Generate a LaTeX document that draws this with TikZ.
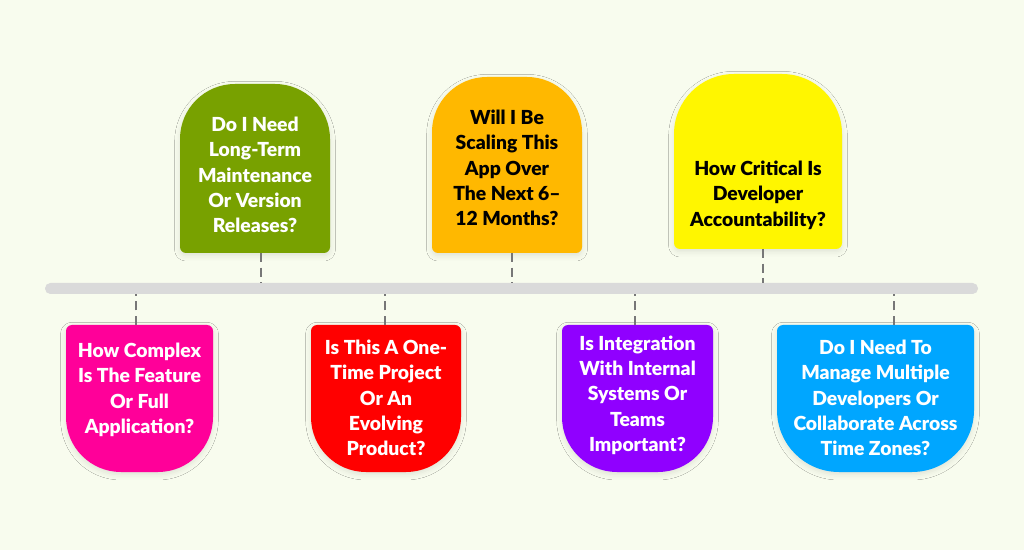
\documentclass[tikz,border=0pt]{standalone}
\usepackage{fontspec}
\setmainfont{Lato}[BoldFont={Lato Black}]
\usetikzlibrary{shadows.blur}

\definecolor{bgcream}{HTML}{F8FCEE}
\definecolor{cardgreen}{HTML}{78A100}
\definecolor{cardorange}{HTML}{FFB800}
\definecolor{cardyellow}{HTML}{FFF600}
\definecolor{cardpink}{HTML}{FF0099}
\definecolor{cardred}{HTML}{FF0000}
\definecolor{cardpurple}{HTML}{9000FF}
\definecolor{cardblue}{HTML}{00A6FF}
\definecolor{bargray}{HTML}{DADADA}
\definecolor{dashgray}{HTML}{777777}

% top card: colour, left, right, top, bottom, arch radius
\newcommand{\topcard}[6]{%
  \fill[#1, cardshadow] (#2+6,#5) arc[start angle=270, end angle=180, radius=6]
    -- (#2,#4-#6) arc[start angle=180, end angle=90, radius=#6]
    -- (#3-#6,#4) arc[start angle=90, end angle=0, radius=#6]
    -- (#3,#5+6) arc[start angle=0, end angle=-90, radius=6] -- cycle;}
% bottom card: colour, left, right, top, bottom, bowl radius
\newcommand{\botcard}[6]{%
  \fill[#1, cardshadow] (#2,#4-6) -- (#2,#5+#6) arc[start angle=180, end angle=270, radius=#6]
    -- (#3-#6,#5) arc[start angle=270, end angle=360, radius=#6]
    -- (#3,#4-6) arc[start angle=0, end angle=90, radius=6]
    -- (#2+6,#4) arc[start angle=90, end angle=180, radius=6] -- cycle;}

\begin{document}
\begin{tikzpicture}[x=0.75pt, y=0.75pt,
    cardshadow/.style={blur shadow={shadow xshift=0pt, shadow yshift=-2pt, shadow blur radius=4pt, shadow opacity=10}},
    question/.style={font=\bfseries\fontsize{14.5}{19}\selectfont, align=center, inner sep=0pt},
    link/.style={draw=dashgray, line width=1.6pt, dash pattern=on 7pt off 4pt},
    bar/.style={fill=bargray, rounded corners=4pt, minimum width=699.75pt, minimum height=8.25pt, inner sep=0pt}]

    \fill[bgcream] (0,0) rectangle (1024,550);
    \useasboundingbox (0,0) rectangle (1024,550);

    % timeline
    \node[bar] (bar) at (511.5,261.5) {};

    % cards above the line
    \topcard{cardgreen}{180}{330}{466}{297}{55}
    \topcard{cardorange}{432}{582}{473}{297}{55}
    \topcard{cardyellow}{674}{842}{476}{301}{60}

    % cards below the line
    \botcard{cardpink}{66}{213}{225}{78}{55}
    \botcard{cardred}{311}{461}{225}{78}{55}
    \botcard{cardpurple}{562}{713}{225}{78}{55}
    \botcard{cardblue}{777}{974}{225}{78}{62}

    \node[question, text=white] (maint) at (255,375) {Do I Need\\Long-Term\\Maintenance\\Or Version\\Releases?};
    \node[question, text=black] (scale) at (507,382) {Will I Be\\Scaling This\\App Over\\The Next 6–\\12 Months?};
    \node[question, text=black] (account) at (758,355) {How Critical Is\\Developer\\Accountability?};

    \node[question, text=white] (complex) at (139.5,160) {How Complex\\Is The Feature\\Or Full\\Application?};
    \node[question, text=white] (onetime) at (386,152) {Is This A One-\\Time Project\\Or An\\Evolving\\Product?};
    \node[question, text=white] (integr) at (637.5,155) {Is Integration\\With Internal\\Systems Or\\Teams\\Important?};
    \node[question, text=white] (manage) at (875.5,152) {Do I Need To\\Manage Multiple\\Developers Or\\Collaborate Across\\Time Zones?};

    % connector ends on the card edges
    \coordinate (maint-end) at (261,297);
    \coordinate (scale-end) at (512,297);
    \coordinate (account-end) at (763,301);
    \coordinate (complex-end) at (136,225);
    \coordinate (onetime-end) at (385,225);
    \coordinate (integr-end) at (635,225);
    \coordinate (manage-end) at (894,225);

    \draw[link] (maint-end) -- (maint-end |- bar.north);
    \draw[link] (scale-end) -- (scale-end |- bar.north);
    \draw[link] (account-end) -- (account-end |- bar.north);
    \draw[link] (complex-end) -- (complex-end |- bar.south);
    \draw[link] (onetime-end) -- (onetime-end |- bar.south);
    \draw[link] (integr-end) -- (integr-end |- bar.south);
    \draw[link] (manage-end) -- (manage-end |- bar.south);
\end{tikzpicture}
\end{document}
